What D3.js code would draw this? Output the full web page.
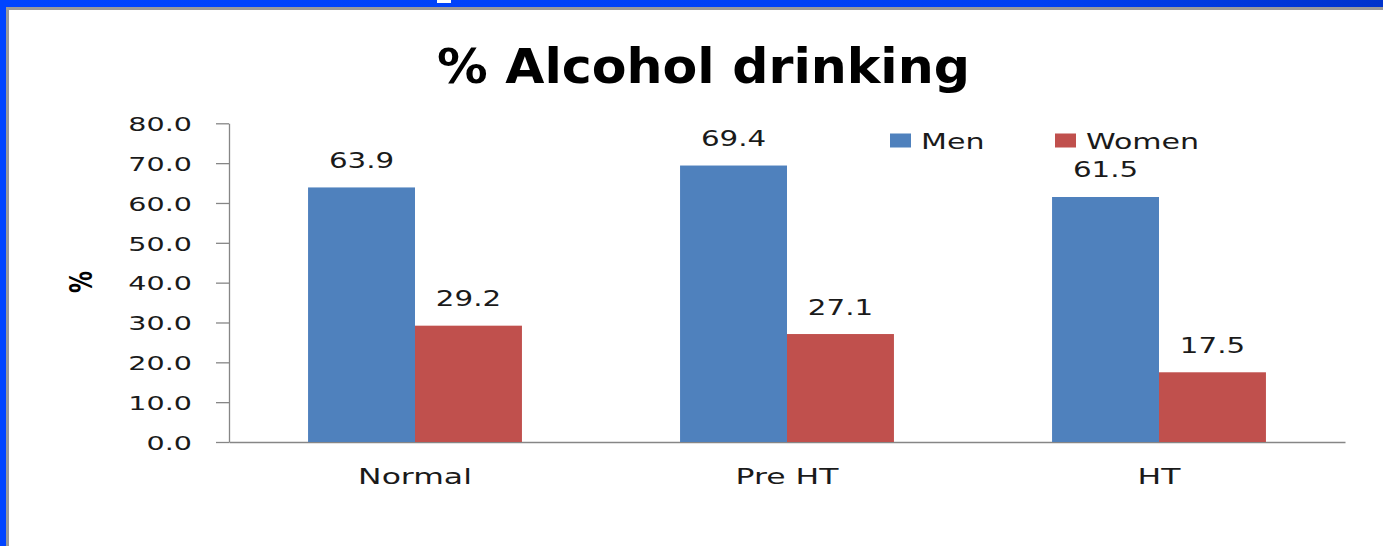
<!DOCTYPE html>
<html>
<head>
<meta charset="utf-8">
<script src="https://cdn.jsdelivr.net/npm/d3@7"></script>
<style>
  html, body { margin: 0; padding: 0; background: #fff; }
  svg { display: block; }
  text { font-family: "DejaVu Sans", Verdana, sans-serif; }
</style>
</head>
<body>
<div id="chart"></div>
<script>
var categories = ["Normal", "Pre HT", "HT"];
var seriesNames = ["Men", "Women"];
var menValues = [63.9, 69.4, 61.5];
var womenValues = [29.2, 27.1, 17.5];
var yTicks = [0, 10, 20, 30, 40, 50, 60, 70, 80];
var colors = { "Men": "#4f81bd", "Women": "#c0504d" };

// the slide was stretched sideways, so text is too
var SX = 1.43;

var width = 1383, height = 546;
var svg = d3.select("#chart").append("svg").attr("width", width).attr("height", height);

// slide frame
var defs = svg.append("defs");
var grad = defs.append("linearGradient").attr("id", "topband").attr("x1", "0").attr("x2", "1");
grad.append("stop").attr("offset", "0").attr("stop-color", "#0044ff");
grad.append("stop").attr("offset", "0.75").attr("stop-color", "#0040f2");
grad.append("stop").attr("offset", "1").attr("stop-color", "#0033cc");
svg.append("rect").attr("x", 0).attr("y", 0).attr("width", width).attr("height", 7).attr("fill", "url(#topband)");
svg.append("rect").attr("x", 0).attr("y", 0).attr("width", 6).attr("height", height).attr("fill", "#0044ff");
svg.append("rect").attr("x", 6).attr("y", 7).attr("width", width - 6).attr("height", 3).attr("fill", "#9a9a9a");
svg.append("rect").attr("x", 6).attr("y", 7).attr("width", 3).attr("height", height - 7).attr("fill", "#9a9a9a");
svg.append("rect").attr("x", 437).attr("y", 0).attr("width", 14).attr("height", 3).attr("fill", "#fff");

var data = categories.map(function(c, i) {
    return { cat: c, values: [
        { name: "Men", value: menValues[i] },
        { name: "Women", value: womenValues[i] }
    ] };
});

var x0 = d3.scaleBand().domain(categories).range([229, 1345]).paddingInner(0.425).paddingOuter(0.2125);
var x1 = d3.scaleBand().domain(seriesNames).range([0, x0.bandwidth()]);
var y = d3.scaleLinear().domain([0, 80]).range([442, 123.3]);

function wideText(parent, x, yy, txt, size, anchor, weight) {
    return parent.append("text")
        .attr("transform", "translate(" + x + "," + yy + ") scale(" + SX + ",1)")
        .attr("text-anchor", anchor || "middle")
        .attr("font-size", size)
        .attr("font-weight", weight || "normal")
        .style("fill", "#1a1a1a")
        .text(txt);
}

// title, squeezed to the width it has in the slide
var title = svg.append("text")
    .attr("text-anchor", "middle")
    .attr("font-size", 48)
    .attr("font-weight", "bold")
    .style("fill", "#000")
    .text("% Alcohol drinking");
var tl = title.node().getComputedTextLength();
title.attr("transform", "translate(703.5,83) scale(" + (533 / tl) + ",1)");

// y axis
var yAxis = svg.append("g")
    .attr("transform", "translate(229,0)")
    .call(d3.axisLeft(y).tickValues(yTicks).tickFormat(d3.format(".1f")).tickSize(13).tickSizeOuter(0));
yAxis.select(".domain").attr("stroke", "#868686").attr("stroke-width", 1.3);
yAxis.selectAll(".tick line").attr("stroke", "#868686").attr("stroke-width", 1.3);
yAxis.selectAll(".tick text")
    .attr("x", -37 / SX)
    .attr("dy", "0.36em")
    .attr("transform", "scale(" + SX + ",1)")
    .attr("font-size", 20)
    .attr("font-family", "DejaVu Sans, Verdana, sans-serif")
    .style("fill", "#1a1a1a");

// x axis baseline
var xAxis = svg.append("g")
    .attr("transform", "translate(0,442)")
    .call(d3.axisBottom(x0).tickSize(0).tickFormat(""));
xAxis.select(".domain").attr("stroke", "#868686").attr("stroke-width", 1.3);

// y label
svg.append("text")
    .attr("transform", "translate(92,282) scale(" + SX + ",1) rotate(-90)")
    .attr("text-anchor", "middle")
    .attr("font-size", 22)
    .attr("font-weight", "bold")
    .style("fill", "#000")
    .text("%");

// bars
var groups = svg.append("g").selectAll("g")
    .data(data)
    .enter().append("g")
    .attr("transform", function(d) { return "translate(" + x0(d.cat) + ",0)"; });

groups.selectAll("rect")
    .data(function(d) { return d.values; })
    .enter().append("rect")
    .attr("x", function(d) { return x1(d.name); })
    .attr("y", function(d) { return y(d.value); })
    .attr("width", x1.bandwidth())
    .attr("height", function(d) { return y(0) - y(d.value); })
    .attr("fill", function(d) { return colors[d.name]; });

groups.each(function(g) {
    var grp = d3.select(this);
    g.values.forEach(function(d) {
        wideText(grp, x1(d.name) + x1.bandwidth() / 2, y(d.value) - 19.5, d3.format(".1f")(d.value), 20.5);
    });
});

// category labels
categories.forEach(function(c) {
    wideText(svg, x0(c) + x0.bandwidth() / 2, 484, c, 22);
});

// legend
var legendX = { "Men": 890, "Women": 1055 };
var legend = svg.append("g").selectAll("g")
    .data(seriesNames)
    .enter().append("g")
    .attr("transform", function(d) { return "translate(" + legendX[d] + ",0)"; });
legend.append("rect")
    .attr("x", 0).attr("y", 133.5)
    .attr("width", 21).attr("height", 14)
    .attr("fill", function(d) { return colors[d]; });
legend.each(function(d) {
    wideText(d3.select(this), 31, 149, d, 21, "start");
});
</script>
</body>
</html>
